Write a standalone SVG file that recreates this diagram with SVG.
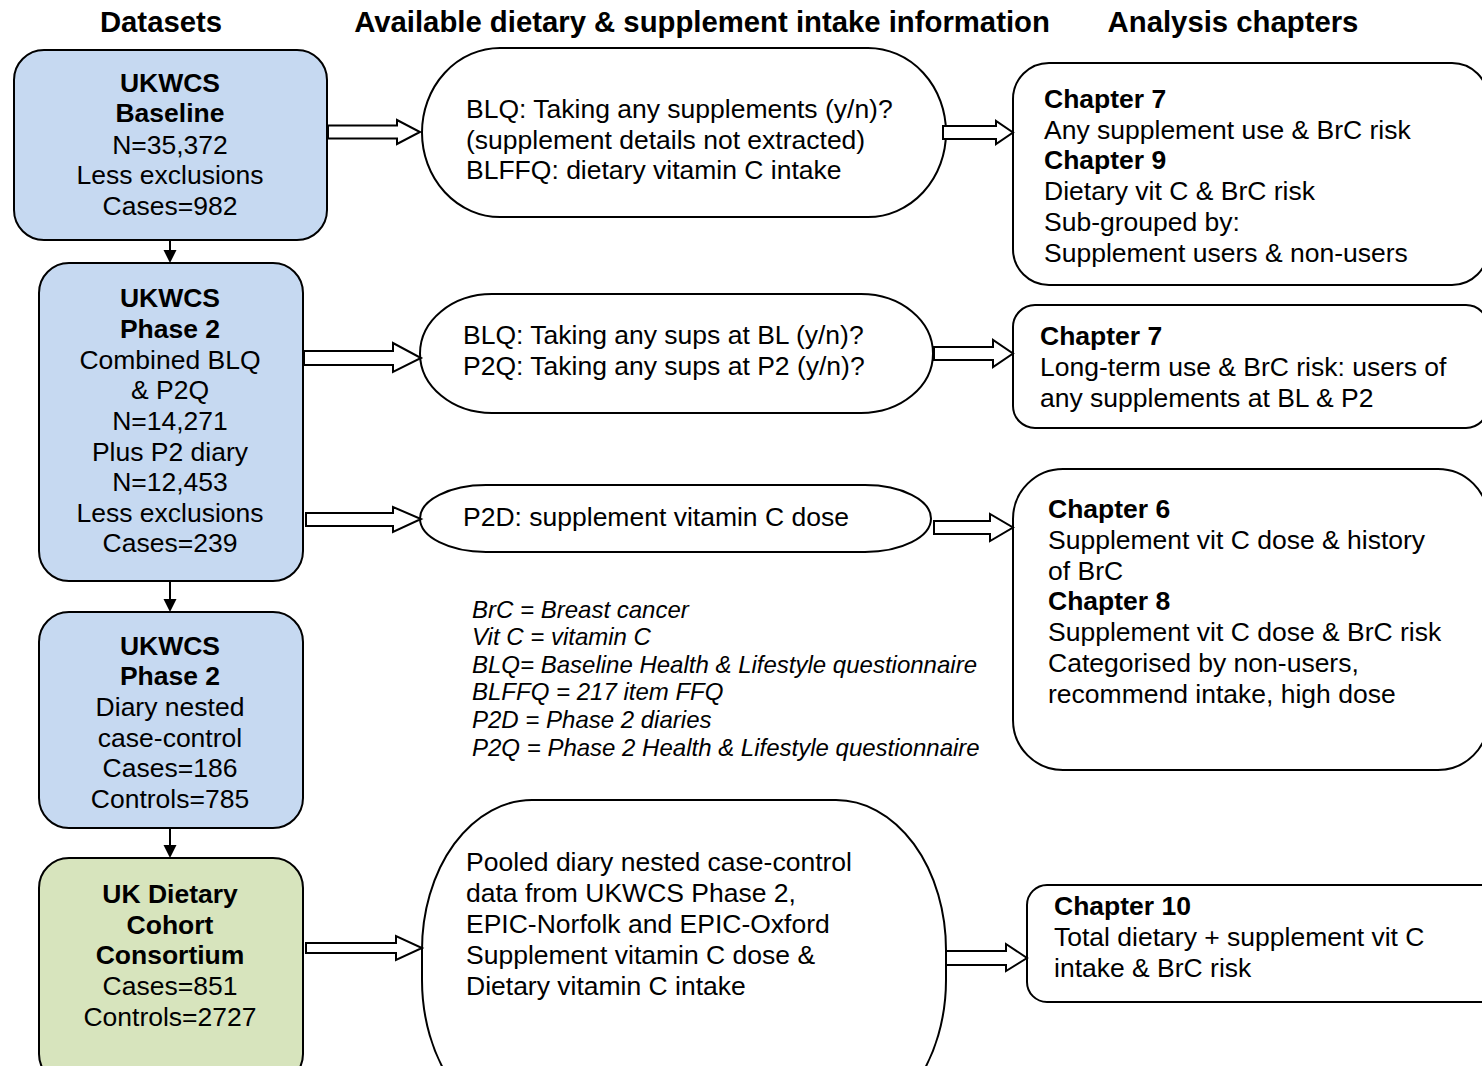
<svg xmlns="http://www.w3.org/2000/svg" width="1482" height="1066" viewBox="0 0 1482 1066">
<style>
.t{font-family:"Liberation Sans",Arial,sans-serif;font-size:26.5px;fill:#000}
.b{font-weight:bold}
.c{text-anchor:middle}
.h{font-family:"Liberation Sans",Arial,sans-serif;font-size:29.3px;font-weight:bold;text-anchor:middle;fill:#000}
.lg{font-family:"Liberation Sans",Arial,sans-serif;font-size:24px;font-style:italic;fill:#000}
.blue{fill:#c6d9f1;stroke:#000;stroke-width:2}
.green{fill:#d7e4bd;stroke:#000;stroke-width:2}
.wb{fill:#fff;stroke:#000;stroke-width:2}
.ba{fill:#fff;stroke:#000;stroke-width:2;stroke-linejoin:miter}
.ln{stroke:#000;stroke-width:2;fill:none}
</style>
<rect width="1482" height="1066" fill="#fff"/>
<g id="headings">
<text class="h" x="202" y="32" style="text-anchor:middle" transform="translate(-41,0)">Datasets</text>
<text class="h" x="702" y="32">Available dietary &amp; supplement intake information</text>
<text class="h" x="1233" y="32">Analysis chapters</text>
</g>
<g id="ds1">
<rect class="blue" x="14" y="50" width="313" height="190" rx="30"/>
<text class="t c b" x="170" y="92">UKWCS</text>
<text class="t c b" x="170" y="122">Baseline</text>
<text class="t c" x="170" y="154">N=35,372</text>
<text class="t c" x="170" y="184">Less exclusions</text>
<text class="t c" x="170" y="215">Cases=982</text>
</g>
<g id="ds2">
<rect class="blue" x="39" y="263" width="264" height="318" rx="30"/>
<text class="t c b" x="170" y="307">UKWCS</text>
<text class="t c b" x="170" y="338">Phase 2</text>
<text class="t c" x="170" y="369">Combined BLQ</text>
<text class="t c" x="170" y="399">&amp; P2Q</text>
<text class="t c" x="170" y="430">N=14,271</text>
<text class="t c" x="170" y="461">Plus P2 diary</text>
<text class="t c" x="170" y="491">N=12,453</text>
<text class="t c" x="170" y="522">Less exclusions</text>
<text class="t c" x="170" y="552">Cases=239</text>
</g>
<g id="ds3">
<rect class="blue" x="39" y="612" width="264" height="216" rx="30"/>
<text class="t c b" x="170" y="655">UKWCS</text>
<text class="t c b" x="170" y="685">Phase 2</text>
<text class="t c" x="170" y="716">Diary nested</text>
<text class="t c" x="170" y="747">case-control</text>
<text class="t c" x="170" y="777">Cases=186</text>
<text class="t c" x="170" y="808">Controls=785</text>
</g>
<g id="ds4">
<rect class="green" x="39" y="858" width="264" height="226" rx="30"/>
<text class="t c b" x="170" y="903">UK Dietary</text>
<text class="t c b" x="170" y="934">Cohort</text>
<text class="t c b" x="170" y="964">Consortium</text>
<text class="t c" x="170" y="995">Cases=851</text>
<text class="t c" x="170" y="1026">Controls=2727</text>
</g>
<g id="info1">
<rect class="wb" x="422" y="48" width="524" height="169" rx="78" ry="84.5"/>
<text class="t" x="466" y="118">BLQ: Taking any supplements (y/n)?</text>
<text class="t" x="466" y="149">(supplement details not extracted)</text>
<text class="t" x="466" y="179">BLFFQ: dietary vitamin C intake</text>
</g>
<g id="info2">
<rect class="wb" x="420" y="294" width="513" height="119" rx="72" ry="59.5"/>
<text class="t" x="463" y="344">BLQ: Taking any sups at BL (y/n)?</text>
<text class="t" x="463" y="375">P2Q: Taking any sups at P2 (y/n)?</text>
</g>
<g id="info3">
<rect class="wb" x="420" y="485" width="511" height="67" rx="66" ry="33.5"/>
<text class="t" x="463" y="526">P2D: supplement vitamin C dose</text>
</g>
<g id="info4">
<rect class="wb" x="422" y="800" width="524" height="330" rx="110" ry="150"/>
<text class="t" x="466" y="871">Pooled diary nested case-control</text>
<text class="t" x="466" y="902">data from UKWCS Phase 2,</text>
<text class="t" x="466" y="933">EPIC-Norfolk and EPIC-Oxford</text>
<text class="t" x="466" y="964">Supplement vitamin C dose &amp;</text>
<text class="t" x="466" y="995">Dietary vitamin C intake</text>
</g>
<g id="legend">
<text class="lg" x="472" y="618">BrC = Breast cancer</text>
<text class="lg" x="472" y="645">Vit C = vitamin C</text>
<text class="lg" x="472" y="673">BLQ= Baseline Health &amp; Lifestyle questionnaire</text>
<text class="lg" x="472" y="700">BLFFQ = 217 item FFQ</text>
<text class="lg" x="472" y="728">P2D = Phase 2 diaries</text>
<text class="lg" x="472" y="756">P2Q = Phase 2 Health &amp; Lifestyle questionnaire</text>
</g>
<g id="ch1">
<rect class="wb" x="1013" y="63" width="475" height="222" rx="36"/>
<text class="t b" x="1044" y="108">Chapter 7</text>
<text class="t" x="1044" y="139">Any supplement use &amp; BrC risk</text>
<text class="t b" x="1044" y="169">Chapter 9</text>
<text class="t" x="1044" y="200">Dietary vit C &amp; BrC risk</text>
<text class="t" x="1044" y="231">Sub-grouped by:</text>
<text class="t" x="1044" y="262">Supplement users &amp; non-users</text>
</g>
<g id="ch2">
<rect class="wb" x="1013" y="305" width="475" height="123" rx="22"/>
<text class="t b" x="1040" y="345">Chapter 7</text>
<text class="t" x="1040" y="376">Long-term use &amp; BrC risk: users of</text>
<text class="t" x="1040" y="407">any supplements at BL &amp; P2</text>
</g>
<g id="ch3">
<rect class="wb" x="1013" y="469" width="475" height="301" rx="50"/>
<text class="t b" x="1048" y="518">Chapter 6</text>
<text class="t" x="1048" y="549">Supplement vit C dose &amp; history</text>
<text class="t" x="1048" y="580">of BrC</text>
<text class="t b" x="1048" y="610">Chapter 8</text>
<text class="t" x="1048" y="641">Supplement vit C dose &amp; BrC risk</text>
<text class="t" x="1048" y="672">Categorised by non-users,</text>
<text class="t" x="1048" y="703">recommend intake, high dose</text>
</g>
<g id="ch4">
<rect class="wb" x="1027" y="885" width="500" height="117" rx="20"/>
<text class="t b" x="1054" y="915">Chapter 10</text>
<text class="t" x="1054" y="946">Total dietary + supplement vit C</text>
<text class="t" x="1054" y="977">intake &amp; BrC risk</text>
</g>
<g id="connectors">
<line class="ln" x1="170" y1="240" x2="170" y2="251"/>
<polygon points="163.5,250 176.5,250 170,263" fill="#000"/>
<line class="ln" x1="170" y1="581" x2="170" y2="600"/>
<polygon points="163.5,599 176.5,599 170,612" fill="#000"/>
<line class="ln" x1="170" y1="828" x2="170" y2="846"/>
<polygon points="163.5,845 176.5,845 170,858" fill="#000"/>
<polygon class="ba" points="328,125.5 397,125.5 397,120 420,132 397,144 397,138.5 328,138.5"/>
<polygon class="ba" points="943,126 996,126 996,121 1013,132.5 996,144 996,139 943,139"/>
<polygon class="ba" points="304,351 393,351 393,343 421,358 393,372 393,365 304,365"/>
<polygon class="ba" points="934,347 993,347 993,340 1013,353.5 993,367 993,360 934,360"/>
<polygon class="ba" points="306,513 393,513 393,507 421,519 393,532 393,526 306,526"/>
<polygon class="ba" points="934,521 990,521 990,514 1013,527.5 990,541 990,534 934,534"/>
<polygon class="ba" points="306,943 396,943 396,936 422,948 396,960 396,953 306,953"/>
<polygon class="ba" points="946,951 1006,951 1006,944 1027,958 1006,971 1006,965 946,965"/>
</g>
</svg>
